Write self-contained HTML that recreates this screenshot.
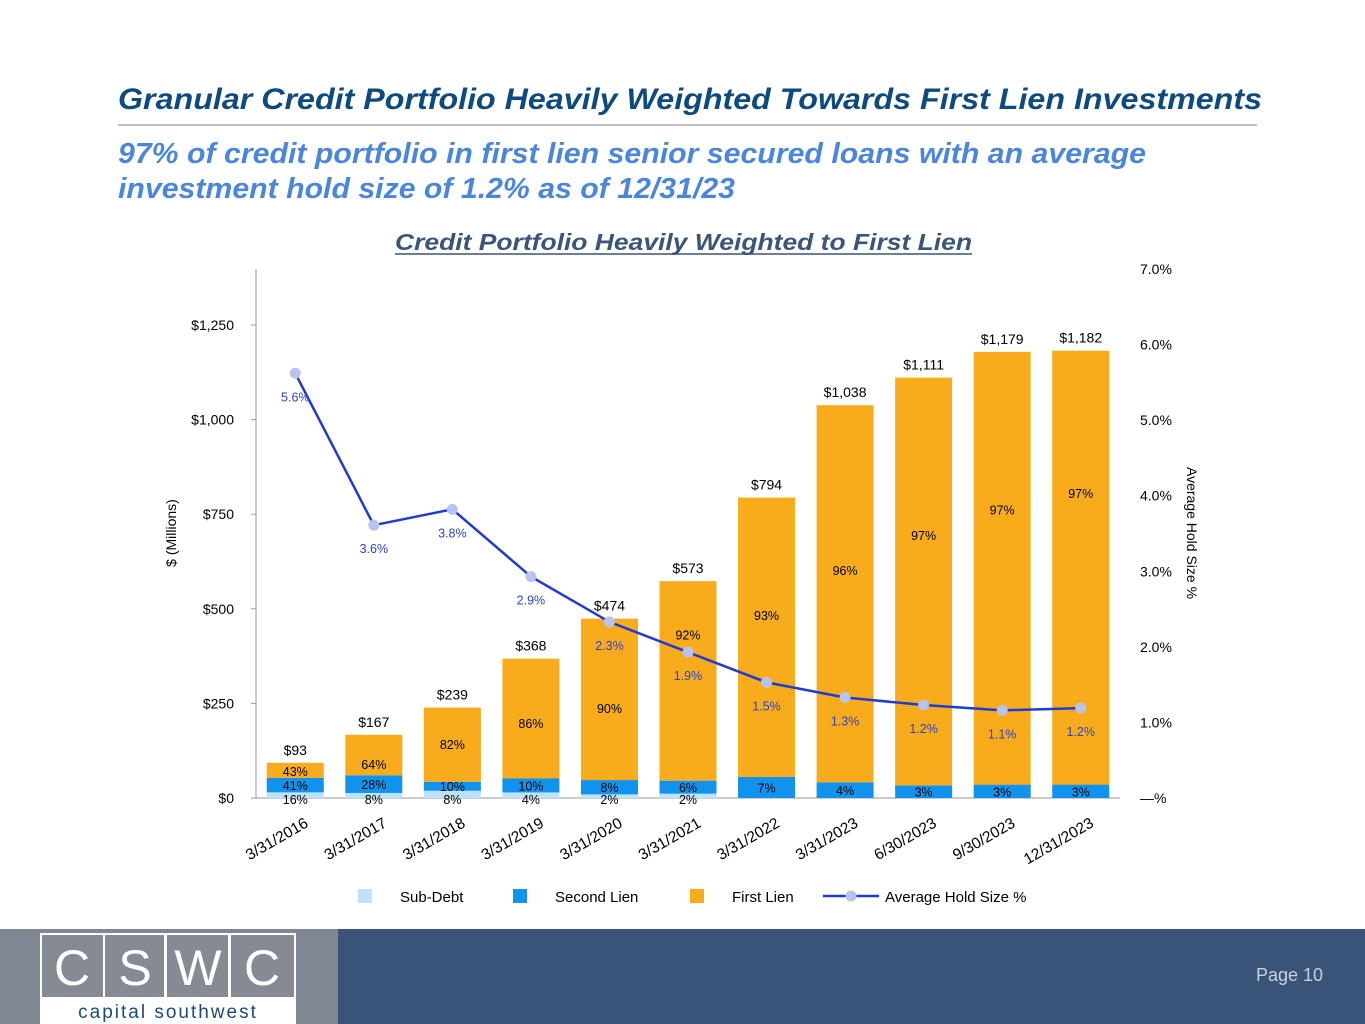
<!DOCTYPE html>
<html><head><meta charset="utf-8"><style>
html,body{margin:0;padding:0;background:#fff;}
svg{display:block;font-family:"Liberation Sans",Arial,sans-serif;}
</style></head><body>
<svg id="c" width="1365" height="1024" viewBox="0 0 1365 1024">
<text x="118" y="109" font-size="30" font-weight="bold" font-style="italic" fill="#0d4a80" textLength="1144" lengthAdjust="spacingAndGlyphs">Granular Credit Portfolio Heavily Weighted Towards First Lien Investments</text>
<line x1="118" y1="125" x2="1257" y2="125" stroke="#bfbfbf" stroke-width="2"/>
<text x="118" y="163" font-size="29" font-weight="bold" font-style="italic" fill="#4a86dc" textLength="1028" lengthAdjust="spacingAndGlyphs">97% of credit portfolio in first lien senior secured loans with an average</text>
<text x="118" y="198" font-size="29" font-weight="bold" font-style="italic" fill="#4a86dc" textLength="617" lengthAdjust="spacingAndGlyphs">investment hold size of 1.2% as of 12/31/23</text>
<text x="395" y="250" font-size="23" font-weight="bold" font-style="italic" fill="#3b5579" textLength="577" lengthAdjust="spacingAndGlyphs">Credit Portfolio Heavily Weighted to First Lien</text>
<line x1="395" y1="254" x2="972" y2="254" stroke="#3b5579" stroke-width="1.5"/>
<g id="chart"></g>
<rect x="0" y="929" width="338" height="95" fill="#7f8792"/>
<rect x="338" y="929" width="1027" height="95" fill="#3a5479"/>
<g>
<rect x="40" y="933" width="256" height="91" fill="#fff"/>
<rect x="42" y="935" width="61" height="62" fill="#868b93"/>
<rect x="105" y="935" width="59" height="62" fill="#868b93"/>
<rect x="167" y="935" width="61" height="62" fill="#868b93"/>
<rect x="231" y="935" width="63" height="62" fill="#868b93"/>
<text x="72" y="985" font-size="50" fill="#fff" text-anchor="middle" font-weight="300">C</text>
<text x="135" y="985" font-size="50" fill="#fff" text-anchor="middle">S</text>
<text x="198" y="985" font-size="50" fill="#fff" text-anchor="middle">W</text>
<text x="262" y="985" font-size="50" fill="#fff" text-anchor="middle">C</text>
<text x="168" y="1018" font-size="19" fill="#1d4a78" text-anchor="middle" letter-spacing="2">capital southwest</text>
</g>
<text x="1323" y="981" font-size="18" fill="#c9d3e0" text-anchor="end">Page 10</text>
</svg>
<script>
const categories=["3/31/2016","3/31/2017","3/31/2018","3/31/2019","3/31/2020","3/31/2021","3/31/2022","3/31/2023","6/30/2023","9/30/2023","12/31/2023"];
const totals=[93,167,239,368,474,573,794,1038,1111,1179,1182];
const subDebt=[16,8,8,4,2,2,0,0,0,0,0];
const secondLien=[41,28,10,10,8,6,7,4,3,3,3];
const firstLien=[43,64,82,86,90,92,93,96,97,97,97];
const firstLienLabelAt=[69,87,140,196,235,430,481,600,692,760,803];
const holdSize=[5.62,3.61,3.82,2.93,2.33,1.93,1.53,1.33,1.23,1.16,1.19];
const holdLabels=["5.6%","3.6%","3.8%","2.9%","2.3%","1.9%","1.5%","1.3%","1.2%","1.1%","1.2%"];
const leftTicks=[0,250,500,750,1000,1250];
const rightTicks=[0,1,2,3,4,5,6,7];

const NS="http://www.w3.org/2000/svg";
const g=document.getElementById('chart');
const x0=256,x1=1120,y0=798;
const yL=v=>y0-v*(473/1250);
const yR=v=>y0-v*(529/7);
const step=(x1-x0)/categories.length;
const xC=i=>x0+step*(i+0.5);
const bw=57;
function el(t,a,txt){const e=document.createElementNS(NS,t);for(const k in a)e.setAttribute(k,a[k]);if(txt!==undefined)e.textContent=txt;g.appendChild(e);return e;}

let e=el('line',{x1:x0,y1:269,x2:x0,y2:y0,stroke:'#999'});


e=el('line',{x1:x0,y1:y0,x2:x1,y2:y0,stroke:'#999'});


leftTicks.forEach(v=>{
  const t=el('text',{x:234,y:yL(v)+5,'font-size':14,'text-anchor':'end',fill:'#000'},'$'+v.toLocaleString('en-US'));
  
  
  el('line',{x1:x0-5,y1:yL(v),x2:x0,y2:yL(v),stroke:'#999'});
});
rightTicks.forEach(v=>{
  const t=el('text',{x:1140,y:yR(v)+5,'font-size':14,fill:'#000'},v===0?'—%':v.toFixed(1)+'%');
  
  
});
e=el('text',{x:0,y:0,'font-size':14,'text-anchor':'middle',transform:'translate(176,533) rotate(-90)'},'$ (Millions)');


e=el('text',{x:0,y:0,'font-size':14,'text-anchor':'middle',transform:'translate(1187,533) rotate(90)'},'Average Hold Size %');



categories.forEach((c,i)=>{
  const cx=xC(i),T=totals[i];
  const hs=T*subDebt[i]/100,h2=T*secondLien[i]/100;
  const ys=yL(hs),y2=yL(hs+h2),y1=yL(T);
  let r=el('rect',{x:cx-bw/2,y:ys,width:bw,height:y0-ys,fill:'#bde3fb'});
  
  
  r=el('rect',{x:cx-bw/2,y:y2,width:bw,height:ys-y2,fill:'#1192ec'});
  
  
  r=el('rect',{x:cx-bw/2,y:y1,width:bw,height:y2-y1,fill:'#f8ab1b'});
  
  
  let t=el('text',{x:cx,y:y1-8,'font-size':14,'text-anchor':'middle'},'$'+T.toLocaleString('en-US'));
  
  
  t=el('text',{x:cx,y:yL(firstLienLabelAt[i])+4,'font-size':12.5,'text-anchor':'middle'},firstLien[i]+'%');
  
  
  t=el('text',{x:cx,y:(y2+ys)/2+5,'font-size':12.5,'text-anchor':'middle'},secondLien[i]+'%');
  
  
  if(subDebt[i]>0){
    t=el('text',{x:cx,y:y0+6,'font-size':12.5,'text-anchor':'middle'},subDebt[i]+'%');
    
    
  }
  t=el('text',{x:0,y:0,'font-size':15.5,'text-anchor':'end',transform:`translate(${cx+14},${y0+28}) rotate(-30)`},c);
  
  
});
const pts=holdSize.map((v,i)=>xC(i)+','+yR(v)).join(' ');
e=el('polyline',{points:pts,fill:'none',stroke:'#1f3bd6','stroke-width':2.5});


holdSize.forEach((v,i)=>{
  let p=el('circle',{cx:xC(i),cy:yR(v),r:5.5,fill:'#b8c3ee'});
  
  
  let t=el('text',{x:xC(i),y:yR(v)+28,'font-size':12.5,'text-anchor':'middle',fill:'#2a44c8'},holdLabels[i]);
  
  
});
const leg=[['Sub-Debt','#bde3fb',358],['Second Lien','#1192ec',513],['First Lien','#f8ab1b',690]];
leg.forEach(([n,c,x])=>{
  let r=el('rect',{x:x,y:889,width:14,height:14,fill:c});
  
  
  let t=el('text',{x:x+42,y:902,'font-size':15},n);
  
  
});
e=el('line',{x1:823,y1:896,x2:879,y2:896,stroke:'#1f3bd6','stroke-width':2.5});


el('circle',{cx:851,cy:896,r:5.5,fill:'#b8c3ee'});
e=el('text',{x:885,y:902,'font-size':15},'Average Hold Size %');


</script>
</body></html>
